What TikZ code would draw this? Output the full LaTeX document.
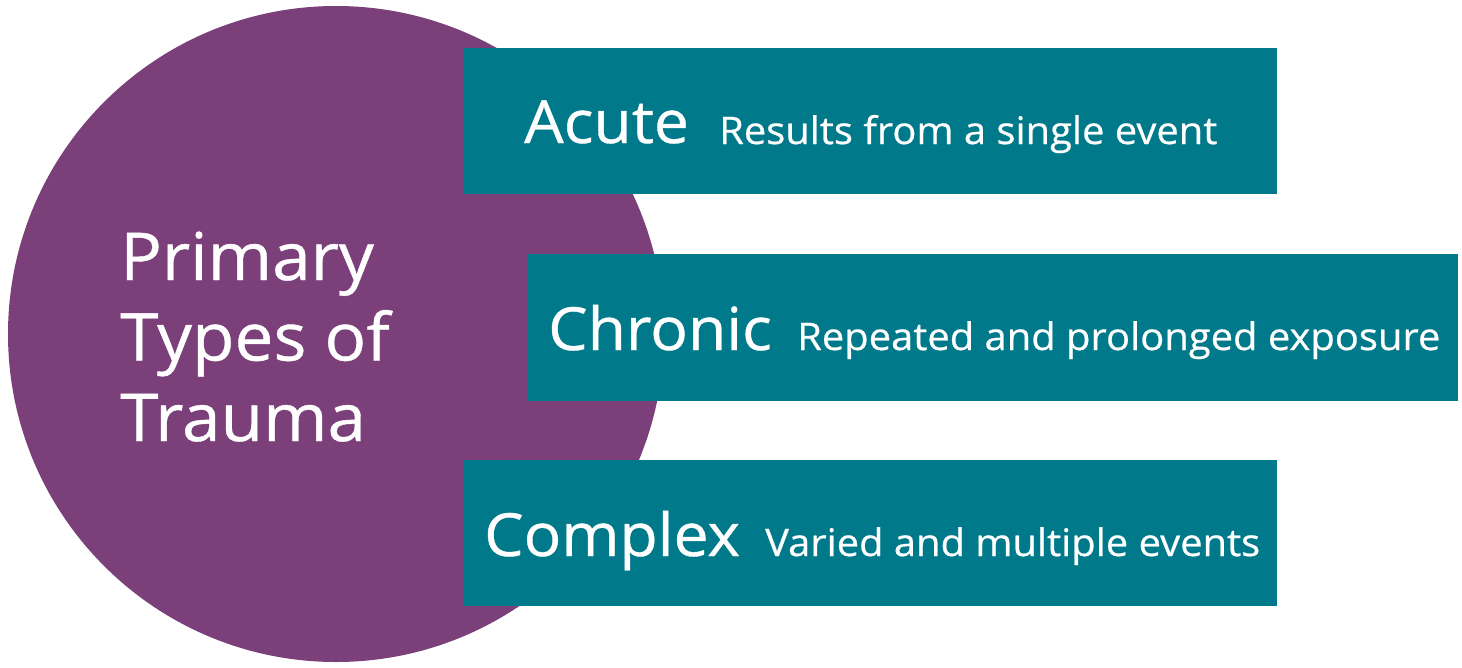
\documentclass[tikz,border=0pt]{standalone}
\usepackage{fontspec}
\setmainfont{Open Sans}[FakeStretch=1.05, FakeBold=0.6]
\definecolor{plum}{HTML}{7B407A}
\definecolor{tealbox}{HTML}{007A8A}
\begin{document}
\begin{tikzpicture}[x=1pt,y=-1pt,
  typebox/.style={fill=tealbox, draw=none, inner sep=0pt},
  headtext/.style={anchor=base west, text=white, inner sep=0pt, font=\fontsize{59.5}{59.5}\selectfont},
  desctext/.style={anchor=base west, text=white, inner sep=0pt, font=\fontsize{38}{38}\selectfont}]
  \useasboundingbox (0,0) rectangle (1462,667);
  % central circle
  \fill[plum] (336,334) circle[radius=328];
  \node[anchor=base west, text=white, inner sep=0pt, align=left,
        font=\fontsize{66}{80.5}\selectfont] (title) at (120,441)
        {Primary\\Types of\\Trauma};
  % type boxes
  \fill[typebox] (463,48) rectangle (1277,194);
  \fill[typebox] (527,254) rectangle (1458,401);
  \fill[typebox] (463,460) rectangle (1277,606);
  \node[headtext] (acute) at (524,143) {Acute};
  \node[desctext] (acuted) at (719,144) {Results from a single event};
  \node[headtext] (chronic) at (548,350) {Chronic};
  \node[desctext] (chronicd) at (797,350) {Repeated and prolonged exposure};
  \node[headtext] (complex) at (484,556) {Complex};
  \node[desctext] (complexd) at (765,556) {Varied and multiple events};
\end{tikzpicture}
\end{document}
